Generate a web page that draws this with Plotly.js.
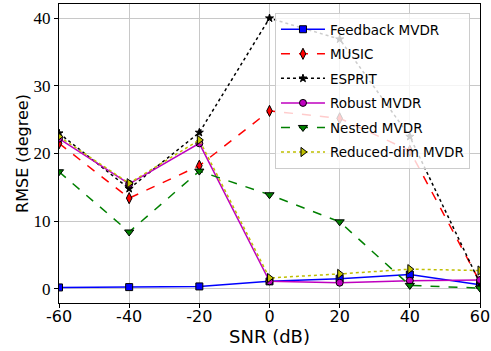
<!DOCTYPE html>
<html>
<head>
<meta charset="utf-8">
<script src="https://cdn.plot.ly/plotly-3.0.1.min.js"></script>
<style>html,body{margin:0;padding:0;background:#fff;}#chart{width:491px;height:351px;}</style>
</head>
<body>
<div id="chart"></div>
<script>
const snr = [-60, -40, -20, 0, 20, 40, 60];
const feedbackMVDR = [0.2, 0.25, 0.35, 1.1, 1.5, 2.1, 0.6];
const music = [21.5, 13.4, 18.2, 26.3, 25.2, 20.4, 1.0];
const esprit = [23.0, 14.8, 23.1, 40.0, 36.9, 22.5, 0.8];
const robustMVDR = [22.2, 15.5, 21.5, 1.1, 0.9, 1.2, 1.3];
const nestedMVDR = [17.3, 8.4, 17.4, 13.9, 9.9, 0.5, 0.1];
const reducedMVDR = [22.5, 15.6, 22.0, 1.6, 2.2, 2.9, 2.7];
const xTickVals = [-60, -40, -20, 0, 20, 40, 60];
const xTickText = ['-60', '-40', '-20', '0', '20', '40', '60'];
const yTickVals = [0, 10, 20, 30, 40];
const yTickText = ['0', '10', '20', '30', '40'];

const series = [
  {name: 'Feedback MVDR', y: feedbackMVDR, color: '#0000ff', dash: 'solid', symbol: 'square', mcolor: '#0000ff', size: 7},
  {name: 'MUSIC', y: music, color: '#ff0000', dash: 'dash', symbol: 'diamond-tall', mcolor: '#ff0000', size: 8},
  {name: 'ESPRIT', y: esprit, color: '#000000', dash: 'dot', symbol: 'star', mcolor: '#000000', size: 6},
  {name: 'Robust MVDR', y: robustMVDR, color: '#bf00bf', dash: 'solid', symbol: 'circle', mcolor: '#bf00bf', size: 7},
  {name: 'Nested MVDR', y: nestedMVDR, color: '#008000', dash: 'dash', symbol: 'triangle-down', mcolor: '#008000', size: 8},
  {name: 'Reduced-dim MVDR', y: reducedMVDR, color: '#bfbf00', dash: 'dot', symbol: 'triangle-right', mcolor: '#bfbf00', size: 8}
];

const traces = series.map((s, i) => ({
  type: 'scatter', mode: 'lines+markers', name: s.name, x: snr, y: s.y,
  legendgroup: 'g' + i,
  line: {color: s.color, dash: s.dash, width: 1.5},
  marker: {symbol: s.symbol, color: s.mcolor, size: s.size, line: {color: '#000000', width: 1}}
}));

const layout = {
  width: 491, height: 351,
  margin: {l: 59, r: 11, t: 4, b: 48},
  paper_bgcolor: '#ffffff', plot_bgcolor: '#ffffff',
  showlegend: true,
  legend: {
    x: 0.513, y: 0.97, xanchor: 'left', yanchor: 'top',
    bgcolor: 'rgba(255,255,255,0.8)', bordercolor: '#cccccc', borderwidth: 1,
    font: {family: 'DejaVu Sans', size: 13.5, color: '#000000'},
    traceorder: 'grouped', tracegroupgap: 4, itemwidth: 44
  },
  xaxis: {
    range: [-60, 60], tickvals: xTickVals, ticktext: xTickText,
    showgrid: true, gridcolor: '#c8c8c8', gridwidth: 1, zeroline: false,
    showline: true, linecolor: '#000000', linewidth: 1, mirror: true,
    ticks: 'outside', ticklen: 4, tickcolor: '#000000', ticklabelstandoff: -5,
    tickfont: {family: 'DejaVu Sans', size: 16, color: '#000000'},
    title: {text: 'SNR (dB)', font: {family: 'DejaVu Sans', size: 18, color: '#000000'}, standoff: 0}
  },
  yaxis: {
    range: [-2.1, 42.1], tickvals: yTickVals, ticktext: yTickText,
    showgrid: true, gridcolor: '#c8c8c8', gridwidth: 1, zeroline: false,
    showline: true, linecolor: '#000000', linewidth: 1, mirror: true,
    ticks: 'outside', ticklen: 4, tickcolor: '#000000',
    tickfont: {family: 'Liberation Serif', size: 17, color: '#000000'},
    title: {text: 'RMSE (degree)', font: {family: 'DejaVu Sans', size: 16, color: '#000000'}, standoff: 0}
  }
};

Plotly.newPlot('chart', traces, layout, {displayModeBar: false, staticPlot: true});
</script>
</body>
</html>
